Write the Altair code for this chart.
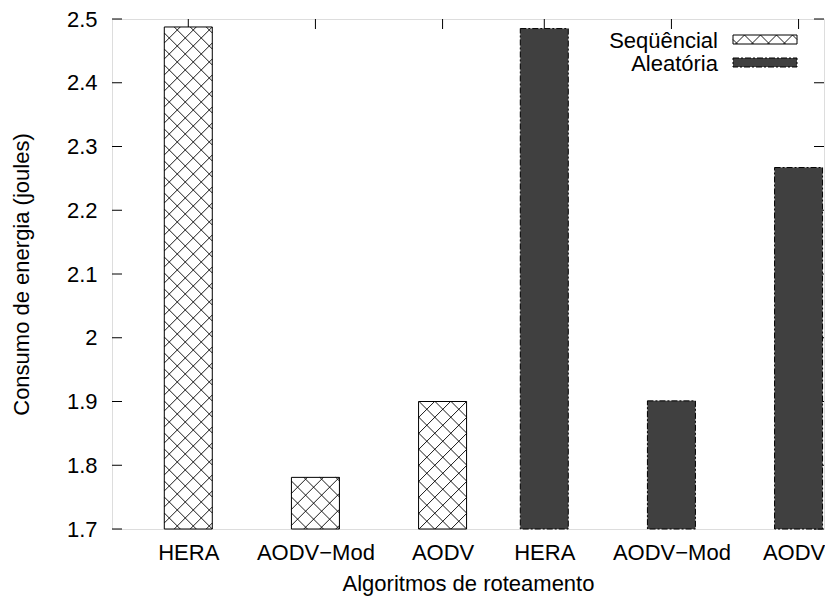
import altair as alt
import pandas as pd
import numpy as np

# ---- data ----
categories = ["HERA", "AODV−Mod", "AODV", "HERA", "AODV−Mod", "AODV"]
series = ["Seqüêncial", "Seqüêncial", "Seqüêncial", "Aleatória", "Aleatória", "Aleatória"]
positions = [0, 1, 2, 2.8, 3.8, 4.8]
values = [2.4875, 1.781, 1.900, 2.485, 1.901, 2.267]
y_ticks = [1.7, 1.8, 1.9, 2.0, 2.1, 2.2, 2.3, 2.4, 2.5]
legend_names = ["Seqüêncial", "Aleatória"]

# ---- layout ----
W, H = 712, 510
XMIN, XMAX = -0.6, 5.0
YMIN, YMAX = 1.7, 2.5
PX_X = W / (XMAX - XMIN)
PX_Y = H / (YMAX - YMIN)
BAR_HALF_PX = 24
BAR_HALF = BAR_HALF_PX / PX_X
PERIOD = 16
FONT = "Liberation Sans"

df = pd.DataFrame({"cat": categories, "series": series, "pos": positions, "value": values})


def hatch_segments(width, height, period, phase_a=0.0, phase_b=0.0):
    """45-degree cross hatch segments in a width x height box (u right, t up)."""
    segs = []
    for c in np.arange(-height - period + phase_a, width + period, period):
        u1, u2 = max(0.0, c), min(width, height + c)
        if u2 > u1:
            segs.append((u1, u1 - c, u2, u2 - c))
    for c in np.arange(phase_b, width + height + period, period):
        u1, u2 = max(0.0, c - height), min(width, c)
        if u2 > u1:
            segs.append((u1, c - u1, u2, c - u2))
    return segs


rows = []
for p, v, s in zip(positions, values, series):
    if s != legend_names[0]:
        continue
    bh = (v - YMIN) * PX_Y
    x0 = p - BAR_HALF
    for u1, t1, u2, t2 in hatch_segments(2 * BAR_HALF_PX, bh, PERIOD):
        rows.append({"x": x0 + u1 / PX_X, "y": YMIN + t1 / PX_Y,
                     "x2": x0 + u2 / PX_X, "y2": YMIN + t2 / PX_Y})
hatch_df = pd.DataFrame(rows)

xs = alt.Scale(domain=[XMIN, XMAX], nice=False, zero=False)
ys = alt.Scale(domain=[YMIN, YMAX], nice=False, zero=False)

label_expr = "[" + ",".join("'%s'" % c for c in categories) + "][indexof([" + \
    ",".join(str(p) for p in positions) + "], datum.value)]"

base = alt.Chart(df)

# last label nudged left just enough to stay inside the page
x_axis = alt.Axis(values=positions, labelExpr=label_expr, title="Algoritmos de roteamento",
                  labelFontSize=22, titleFontSize=22, titleFontWeight="normal",
                  labelFont=FONT, titleFont=FONT, labelColor="black", titleColor="black",
                  ticks=False, tickSize=0, domain=False, grid=False,
                  labelPadding=13, titlePadding=10, labelOverlap=False,
                  labelOffset={"condition": {"test": "datum.value > %f" % (positions[-1] - 0.1),
                                             "value": -5}, "value": 0})
y_axis = alt.Axis(values=y_ticks, labelExpr="format(datum.value, '~g')",
                  title="Consumo de energia (joules)",
                  labelFontSize=22, titleFontSize=22, titleFontWeight="normal",
                  labelFont=FONT, titleFont=FONT, labelColor="black", titleColor="black",
                  ticks=False, tickSize=0, domain=False, grid=False,
                  labelPadding=15, titlePadding=33)

tick_df = pd.DataFrame({"t": y_ticks})
left_ticks = alt.Chart(tick_df).mark_rule(color="black", strokeWidth=1).encode(
    y=alt.Y("t:Q", scale=ys, axis=y_axis), x=alt.value(0), x2=alt.value(10))
right_ticks = alt.Chart(tick_df).mark_rule(color="black", strokeWidth=1).encode(
    y=alt.Y("t:Q", scale=ys), x=alt.value(W - 10), x2=alt.value(W))
top_ticks = base.mark_rule(color="black", strokeWidth=1).encode(
    x=alt.X("pos:Q", scale=xs, axis=x_axis), y=alt.value(0), y2=alt.value(10))
bottom_ticks = base.mark_rule(color="black", strokeWidth=1).encode(
    x=alt.X("pos:Q", scale=xs), y=alt.value(H - 10), y2=alt.value(H))

bars_seq = base.transform_filter(alt.datum.series == legend_names[0]).transform_calculate(
    x0="datum.pos - %f" % BAR_HALF, x1="datum.pos + %f" % BAR_HALF
).mark_bar(fill="white", stroke="black", strokeWidth=1).encode(
    x=alt.X("x0:Q", scale=xs), x2="x1:Q",
    y=alt.Y("value:Q", scale=ys), y2=alt.Y2(datum=YMIN))

bars_ale = base.transform_filter(alt.datum.series == legend_names[1]).transform_calculate(
    x0="datum.pos - %f" % BAR_HALF, x1="datum.pos + %f" % BAR_HALF
).mark_bar(fill="#404040", stroke="black", strokeWidth=1, strokeDash=[6, 2, 2, 2]).encode(
    x=alt.X("x0:Q", scale=xs), x2="x1:Q",
    y=alt.Y("value:Q", scale=ys), y2=alt.Y2(datum=YMIN))

hatch = alt.Chart(hatch_df).mark_rule(color="black", strokeWidth=0.9).encode(
    x=alt.X("x:Q", scale=xs), y=alt.Y("y:Q", scale=ys), x2="x2:Q", y2="y2:Q")

# ---- legend (top right, inside the frame) ----
LX0, LX1 = 621, 685
L_ROWS = [(16, 25), (39, 48)]
legend_text = []
for name, (top, bot) in zip(legend_names, L_ROWS):
    legend_text.append(
        alt.Chart(pd.DataFrame({"name": [name]})).mark_text(
            align="right", baseline="alphabetic", fontSize=22, font=FONT, color="black"
        ).encode(text="name:N", x=alt.value(LX0 - 15), y=alt.value(bot + 4)))

leg_rows = []
for u1, t1, u2, t2 in hatch_segments(LX1 - LX0, L_ROWS[0][1] - L_ROWS[0][0], PERIOD,
                                      phase_a=-4.5, phase_b=4.5):
    leg_rows.append({"px": LX0 + u1, "py": L_ROWS[0][1] - t1,
                     "px2": LX0 + u2, "py2": L_ROWS[0][1] - t2})
leg_hatch_df = pd.DataFrame(leg_rows)

leg_box_seq = alt.Chart(pd.DataFrame({"name": [legend_names[0]]})).mark_rect(
    fill="white", stroke="black", strokeWidth=1).encode(
    x=alt.value(LX0), x2=alt.value(LX1), y=alt.value(L_ROWS[0][0]), y2=alt.value(L_ROWS[0][1]))
leg_hatch = alt.Chart(leg_hatch_df).mark_rule(color="black", strokeWidth=0.9).encode(
    x=alt.X("px:Q", scale=None), y=alt.Y("py:Q", scale=None),
    x2="px2:Q", y2="py2:Q")
leg_box_ale = alt.Chart(pd.DataFrame({"name": [legend_names[1]]})).mark_rect(
    fill="#404040", stroke="black", strokeWidth=1, strokeDash=[6, 2, 2, 2]).encode(
    x=alt.value(LX0), x2=alt.value(LX1), y=alt.value(L_ROWS[1][0]), y2=alt.value(L_ROWS[1][1]))

chart = alt.layer(
    left_ticks, right_ticks, top_ticks, bottom_ticks,
    bars_seq, hatch, bars_ale,
    leg_box_seq, leg_hatch, leg_box_ale, *legend_text
).resolve_scale(x="shared", y="shared").properties(
    width=W, height=H,
    autosize=alt.AutoSizeParams(type="none"),
    padding={"left": 104, "top": 11, "right": 1, "bottom": 72},
).configure_view(stroke="black", strokeWidth=1.5).configure(background="white")

chart.save("out.html", embed_options={"renderer": "svg", "actions": False})
